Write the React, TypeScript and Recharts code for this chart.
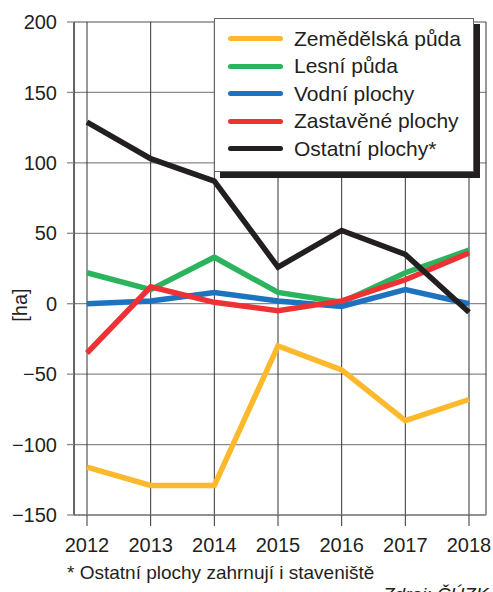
import React from 'react';
import { LineChart, Line, XAxis, YAxis, CartesianGrid, Legend } from 'recharts';

const years = ['2012', '2013', '2014', '2015', '2016', '2017', '2018'];
const zemedelska = [-116, -129, -129, -30, -47, -83, -68];
const lesni = [22, 10, 33, 8, 1, 22, 38];
const vodni = [0, 2, 8, 2, -2, 10, 0];
const zastavene = [-35, 12, 1, -5, 2, 17, 36];
const ostatni = [129, 103, 87, 26, 52, 35, -6];
const yTicks = [-150, -100, -50, 0, 50, 100, 150, 200];

const series = [
  { key: 'zem', name: 'Zemědělská půda', color: '#FDB92C' },
  { key: 'les', name: 'Lesní půda', color: '#2BB35E' },
  { key: 'vod', name: 'Vodní plochy', color: '#1E73C1' },
  { key: 'zas', name: 'Zastavěné plochy', color: '#EE3134' },
  { key: 'ost', name: 'Ostatní plochy*', color: '#231F20' },
];

const data = years.map((year, i) => ({
  year,
  zem: zemedelska[i],
  les: lesni[i],
  vod: vodni[i],
  zas: zastavene[i],
  ost: ostatni[i],
}));

const font = '"Liberation Sans", Arial, sans-serif';
const textColor = '#231F20';

function LegendBox() {
  return (
    <div
      style={{
        width: 258,
        height: 146,
        border: '1px solid #666',
        background: '#fff',
        boxShadow: '6px 6px 0 #231F20',
        fontFamily: font,
        fontSize: 21,
        color: textColor,
        paddingTop: 6,
        boxSizing: 'content-box',
      }}
    >
      {series.map((s) => (
        <div key={s.key} style={{ display: 'flex', alignItems: 'center', height: 27.5 }}>
          <div
            style={{
              marginLeft: 13,
              width: 55,
              height: 5,
              borderRadius: 3,
              background: s.color,
            }}
          />
          <span style={{ marginLeft: 11, whiteSpace: 'nowrap' }}>{s.name}</span>
        </div>
      ))}
    </div>
  );
}

export default function App() {
  return (
    <div
      style={{
        position: 'absolute',
        left: 0,
        top: 0,
        width: 493,
        height: 592,
        overflow: 'hidden',
        background: '#fff',
        fontFamily: font,
      }}
    >
      <LineChart
        width={493}
        height={592}
        data={data}
        margin={{ top: 22, right: 7, left: 0, bottom: 17 }}
      >
        <CartesianGrid vertical={false} stroke="#8a8a8a" strokeWidth={1.3} />
        <CartesianGrid horizontal={false} stroke="#333" strokeWidth={1} />
        <XAxis
          dataKey="year"
          height={60}
          padding={{ left: 13, right: 17 }}
          axisLine={{ stroke: '#8a8a8a', strokeWidth: 1.3 }}
          tickLine={{ stroke: '#333' }}
          tickSize={11}
          tickMargin={12}
          tick={{ fill: textColor, fontSize: 20, fontFamily: font }}
          interval={0}
        />
        <YAxis
          width={74}
          domain={[-150, 200]}
          ticks={yTicks}
          allowDataOverflow
          axisLine={{ stroke: '#333' }}
          tickLine={{ stroke: '#8a8a8a', strokeWidth: 1.3 }}
          tickSize={7}
          tickMargin={10}
          tick={{ fill: textColor, fontSize: 20, fontFamily: font }}
          tickFormatter={(v: number) => String(v).replace('-', '\u2212')}
          label={{
            content: () => (
              <text
                x={20}
                y={305}
                transform="rotate(-90 20 305)"
                textAnchor="middle"
                dominantBaseline="central"
                fill={textColor}
                fontSize={20}
                fontFamily={font}
              >
                [ha]
              </text>
            ),
          }}
        />
        <YAxis
          yAxisId="right"
          orientation="right"
          width={0}
          domain={[-150, 200]}
          tick={false}
          tickLine={false}
          axisLine={{ stroke: '#8a8a8a', strokeWidth: 1.3 }}
        />
        {series.map((s) => (
          <Line
            key={s.key}
            type="linear"
            dataKey={s.key}
            name={s.name}
            stroke={s.color}
            strokeWidth={5.5}
            dot={false}
            isAnimationActive={false}
          />
        ))}
        <Legend
          layout="vertical"
          align="center"
          verticalAlign="middle"
          content={() => <LegendBox />}
          wrapperStyle={{ position: 'absolute', left: 214, top: 18, width: 266, height: 160 }}
        />
      </LineChart>
      <div
        style={{
          position: 'absolute',
          left: 67,
          top: 562,
          fontSize: 19,
          color: textColor,
          whiteSpace: 'nowrap',
        }}
      >
        * Ostatní plochy zahrnují i staveniště
      </div>
      <div
        style={{
          position: 'absolute',
          left: 383,
          top: 584,
          fontSize: 19,
          fontStyle: 'italic',
          color: textColor,
          whiteSpace: 'nowrap',
        }}
      >
        Zdroj: ČÚZK
      </div>
    </div>
  );
}
